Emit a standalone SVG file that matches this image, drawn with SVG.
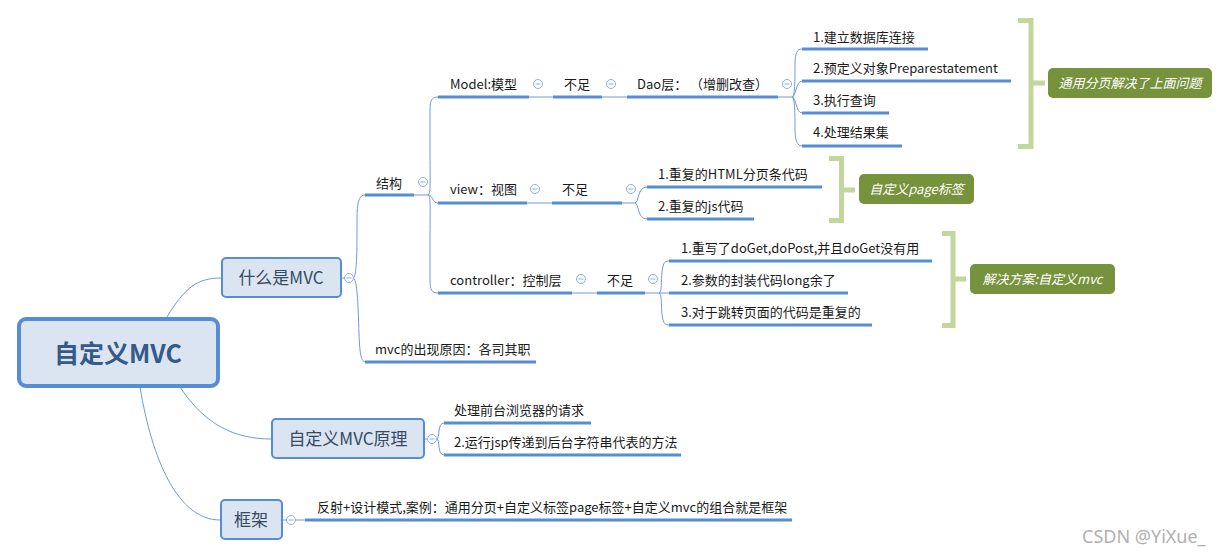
<svg xmlns="http://www.w3.org/2000/svg" width="1228" height="557" viewBox="0 0 1228 557">
<style>
.t{font-family:"Noto Sans CJK SC","Noto Sans",sans-serif;font-size:13px;fill:#1a1a1a}
.node{fill:#dbe5f1;stroke:#558ed5;stroke-width:2}
.nt{font-family:"Noto Sans CJK SC","Noto Sans",sans-serif;font-size:17px;fill:#364a63;text-anchor:middle}
.ul{stroke:#558ed5;stroke-width:3;fill:none}
.ln{stroke:#6f9ad8;stroke-width:1;fill:none}
.col{fill:#fff;stroke:#8aaee0;stroke-width:1}
.cm{stroke:#8aaee0;stroke-width:1}
.br{stroke:#c3d69b;stroke-width:5;fill:none}
.lab{fill:#77923c}
.lt{font-family:"Noto Sans CJK SC","Noto Sans",sans-serif;font-size:13px;fill:#fff;font-style:italic;text-anchor:middle}
</style>
<defs>
<g id="c"><circle class="col" r="4.5"/><line class="cm" x1="-2.5" y1="0" x2="2.5" y2="0"/></g>
</defs>
<rect width="1228" height="557" fill="#fff"/>
<g id="connectors">
<path class="ln" d="M167,317 C185,287 198,278 221,278"/>
<path class="ln" d="M180,387 C205,425 235,439 271,439"/>
<path class="ln" d="M140,387 C152,460 178,520 220,520"/>
<path class="ln" d="M342,278 L345,278"/>
<path class="ln" d="M353,278 C357,278 357,250 357,220 C357,202 359,195 365,195"/>
<path class="ln" d="M353,278 C357,278 358,300 359,335 C360,355 361,362 366,362"/>
<path class="ln" d="M414,195 L428,195"/>
<path class="ln" d="M428,195 C431,195 430,180 430,150 L430,110 C430,100 432,97 438,97"/>
<path class="ln" d="M428,195 C433,195 432,203 438,203"/>
<path class="ln" d="M428,195 C431,195 430,210 430,240 L430,280 C430,290 432,293 438,293"/>
<path class="ln" d="M529,97 L553,97 M602,97 L627,97 M778,97 L792,97"/>
<path class="ln" d="M792,97 C795,97 795,80 795,65 C795,53 797,49 802,49"/>
<path class="ln" d="M792,97 C796,97 796,81 802,81"/>
<path class="ln" d="M792,97 C796,97 796,113 802,113"/>
<path class="ln" d="M792,97 C795,97 795,115 795,128 C795,140 797,146 802,146"/>
<path class="ln" d="M527,203 L552,203 M622,203 L635,203"/>
<path class="ln" d="M635,203 C639,203 637,187 647,187"/>
<path class="ln" d="M635,203 C639,203 637,219 647,219"/>
<path class="ln" d="M572,293 L597,293 M645,293 L659,293"/>
<path class="ln" d="M659,293 C662,293 661,280 662,272 C663,264 664,261 669,261"/>
<path class="ln" d="M659,293 L669,293"/>
<path class="ln" d="M659,293 C662,293 661,306 662,314 C663,322 664,325 669,325"/>
<path class="ln" d="M425,439 L428,439 M436,439 L437,439"/>
<path class="ln" d="M437,439 C440,439 437,423 444,423"/>
<path class="ln" d="M437,439 C440,439 437,455 444,455"/>
<path class="ln" d="M283,520 L287,520 M295,520 L305,520"/>
</g>
<g id="root">
<rect x="19" y="319" width="199" height="67" rx="7" fill="#dbe5f1" stroke="#558ed5" stroke-width="4"/>
<text x="118" y="363" font-family="'Noto Sans CJK SC','Noto Sans',sans-serif" font-size="25" font-weight="bold" fill="#34598a" text-anchor="middle">自定义MVC</text>
</g>
<g id="n-what">
<rect class="node" x="222" y="258" width="119" height="39" rx="4"/>
<text class="nt" x="281" y="284">什么是MVC</text>
<use href="#c" x="349" y="278"/>
</g>
<g id="n-principle">
<rect class="node" x="272" y="419" width="152" height="39" rx="4"/>
<text class="nt" x="348" y="445">自定义MVC原理</text>
<use href="#c" x="432" y="439"/>
</g>
<g id="n-frame">
<rect class="node" x="221" y="500" width="61" height="39" rx="4"/>
<text class="nt" x="251" y="526">框架</text>
<use href="#c" x="291" y="520"/>
</g>
<g id="n-struct">
<path class="ul" d="M365,195 L414,195"/>
<text class="t" x="376" y="188">结构</text>
<use href="#c" x="423" y="182"/>
</g>
<g id="n-model">
<path class="ul" d="M438,97 L529,97"/>
<text class="t" x="450" y="89">Model:模型</text>
<use href="#c" x="538" y="84"/>
</g>
<g id="n-model-lack">
<path class="ul" d="M553,97 L602,97"/>
<text class="t" x="564" y="89">不足</text>
<use href="#c" x="611" y="84"/>
</g>
<g id="n-dao">
<path class="ul" d="M627,97 L778,97"/>
<text class="t" x="637" y="89">Dao层： （增删改查）</text>
<use href="#c" x="787" y="84"/>
</g>
<g id="n-dao1">
<path class="ul" d="M802,49 L928,49"/>
<text class="t" x="813" y="42">1.建立数据库连接</text>
</g>
<g id="n-dao2">
<path class="ul" d="M802,81 L1011,81"/>
<text class="t" x="813" y="73">2.预定义对象Preparestatement</text>
</g>
<g id="n-dao3">
<path class="ul" d="M802,113 L889,113"/>
<text class="t" x="813" y="105">3.执行查询</text>
</g>
<g id="n-dao4">
<path class="ul" d="M802,146 L902,146"/>
<text class="t" x="813" y="137">4.处理结果集</text>
</g>
<g id="s-dao">
<path class="br" d="M1018,20.5 L1031,20.5 L1031,146.5 L1018,146.5 M1031,83 L1045,83"/>
<rect class="lab" x="1048" y="68" width="164" height="30" rx="5"/>
<text class="lt" x="1130" y="88">通用分页解决了上面问题</text>
</g>
<g id="n-view">
<path class="ul" d="M438,203 L527,203"/>
<text class="t" x="450" y="194">view：视图</text>
<use href="#c" x="535" y="189"/>
</g>
<g id="n-view-lack">
<path class="ul" d="M552,203 L622,203"/>
<text class="t" x="562" y="194">不足</text>
<use href="#c" x="631" y="189"/>
</g>
<g id="n-view1">
<path class="ul" d="M647,187 L822,187"/>
<text class="t" x="658" y="179">1.重复的HTML分页条代码</text>
</g>
<g id="n-view2">
<path class="ul" d="M647,219 L754,219"/>
<text class="t" x="658" y="211">2.重复的js代码</text>
</g>
<g id="s-view">
<path class="br" d="M829,158.5 L841.5,158.5 L841.5,220.5 L829,220.5 M841.5,190 L855,190"/>
<rect class="lab" x="859" y="174" width="115" height="30" rx="5"/>
<text class="lt" x="916.5" y="194">自定义page标签</text>
</g>
<g id="n-ctrl">
<path class="ul" d="M438,293 L572,293"/>
<text class="t" x="450" y="285">controller：控制层</text>
<use href="#c" x="581" y="279"/>
</g>
<g id="n-ctrl-lack">
<path class="ul" d="M597,293 L645,293"/>
<text class="t" x="607" y="285">不足</text>
<use href="#c" x="653" y="279"/>
</g>
<g id="n-ctrl1">
<path class="ul" d="M669,261 L932,261"/>
<text class="t" x="681" y="253">1.重写了doGet,doPost,并且doGet没有用</text>
</g>
<g id="n-ctrl2">
<path class="ul" d="M669,293 L848,293"/>
<text class="t" x="681" y="285">2.参数的封装代码long余了</text>
</g>
<g id="n-ctrl3">
<path class="ul" d="M669,325 L872,325"/>
<text class="t" x="681" y="317">3.对于跳转页面的代码是重复的</text>
</g>
<g id="s-ctrl">
<path class="br" d="M942,233.5 L953,233.5 L953,325.5 L942,325.5 M953,279 L966,279"/>
<rect class="lab" x="970" y="264" width="145" height="30" rx="5"/>
<text class="lt" x="1042.5" y="284">解决方案:自定义mvc</text>
</g>
<g id="n-reason">
<path class="ul" d="M365,362 L536,362"/>
<text class="t" x="375" y="354">mvc的出现原因：各司其职</text>
</g>
<g id="n-p1">
<path class="ul" d="M444,423 L591,423"/>
<text class="t" x="454" y="415">处理前台浏览器的请求</text>
</g>
<g id="n-p2">
<path class="ul" d="M444,455 L681,455"/>
<text class="t" x="454" y="447">2.运行jsp传递到后台字符串代表的方法</text>
</g>
<g id="n-f1">
<path class="ul" d="M305,520 L792,520"/>
<text class="t" x="317" y="512">反射+设计模式,案例：通用分页+自定义标签page标签+自定义mvc的组合就是框架</text>
</g>
<text x="1082" y="543" font-family="'Noto Sans',sans-serif" font-size="18" fill="#b0b0b0">CSDN @YiXue_</text>
</svg>
